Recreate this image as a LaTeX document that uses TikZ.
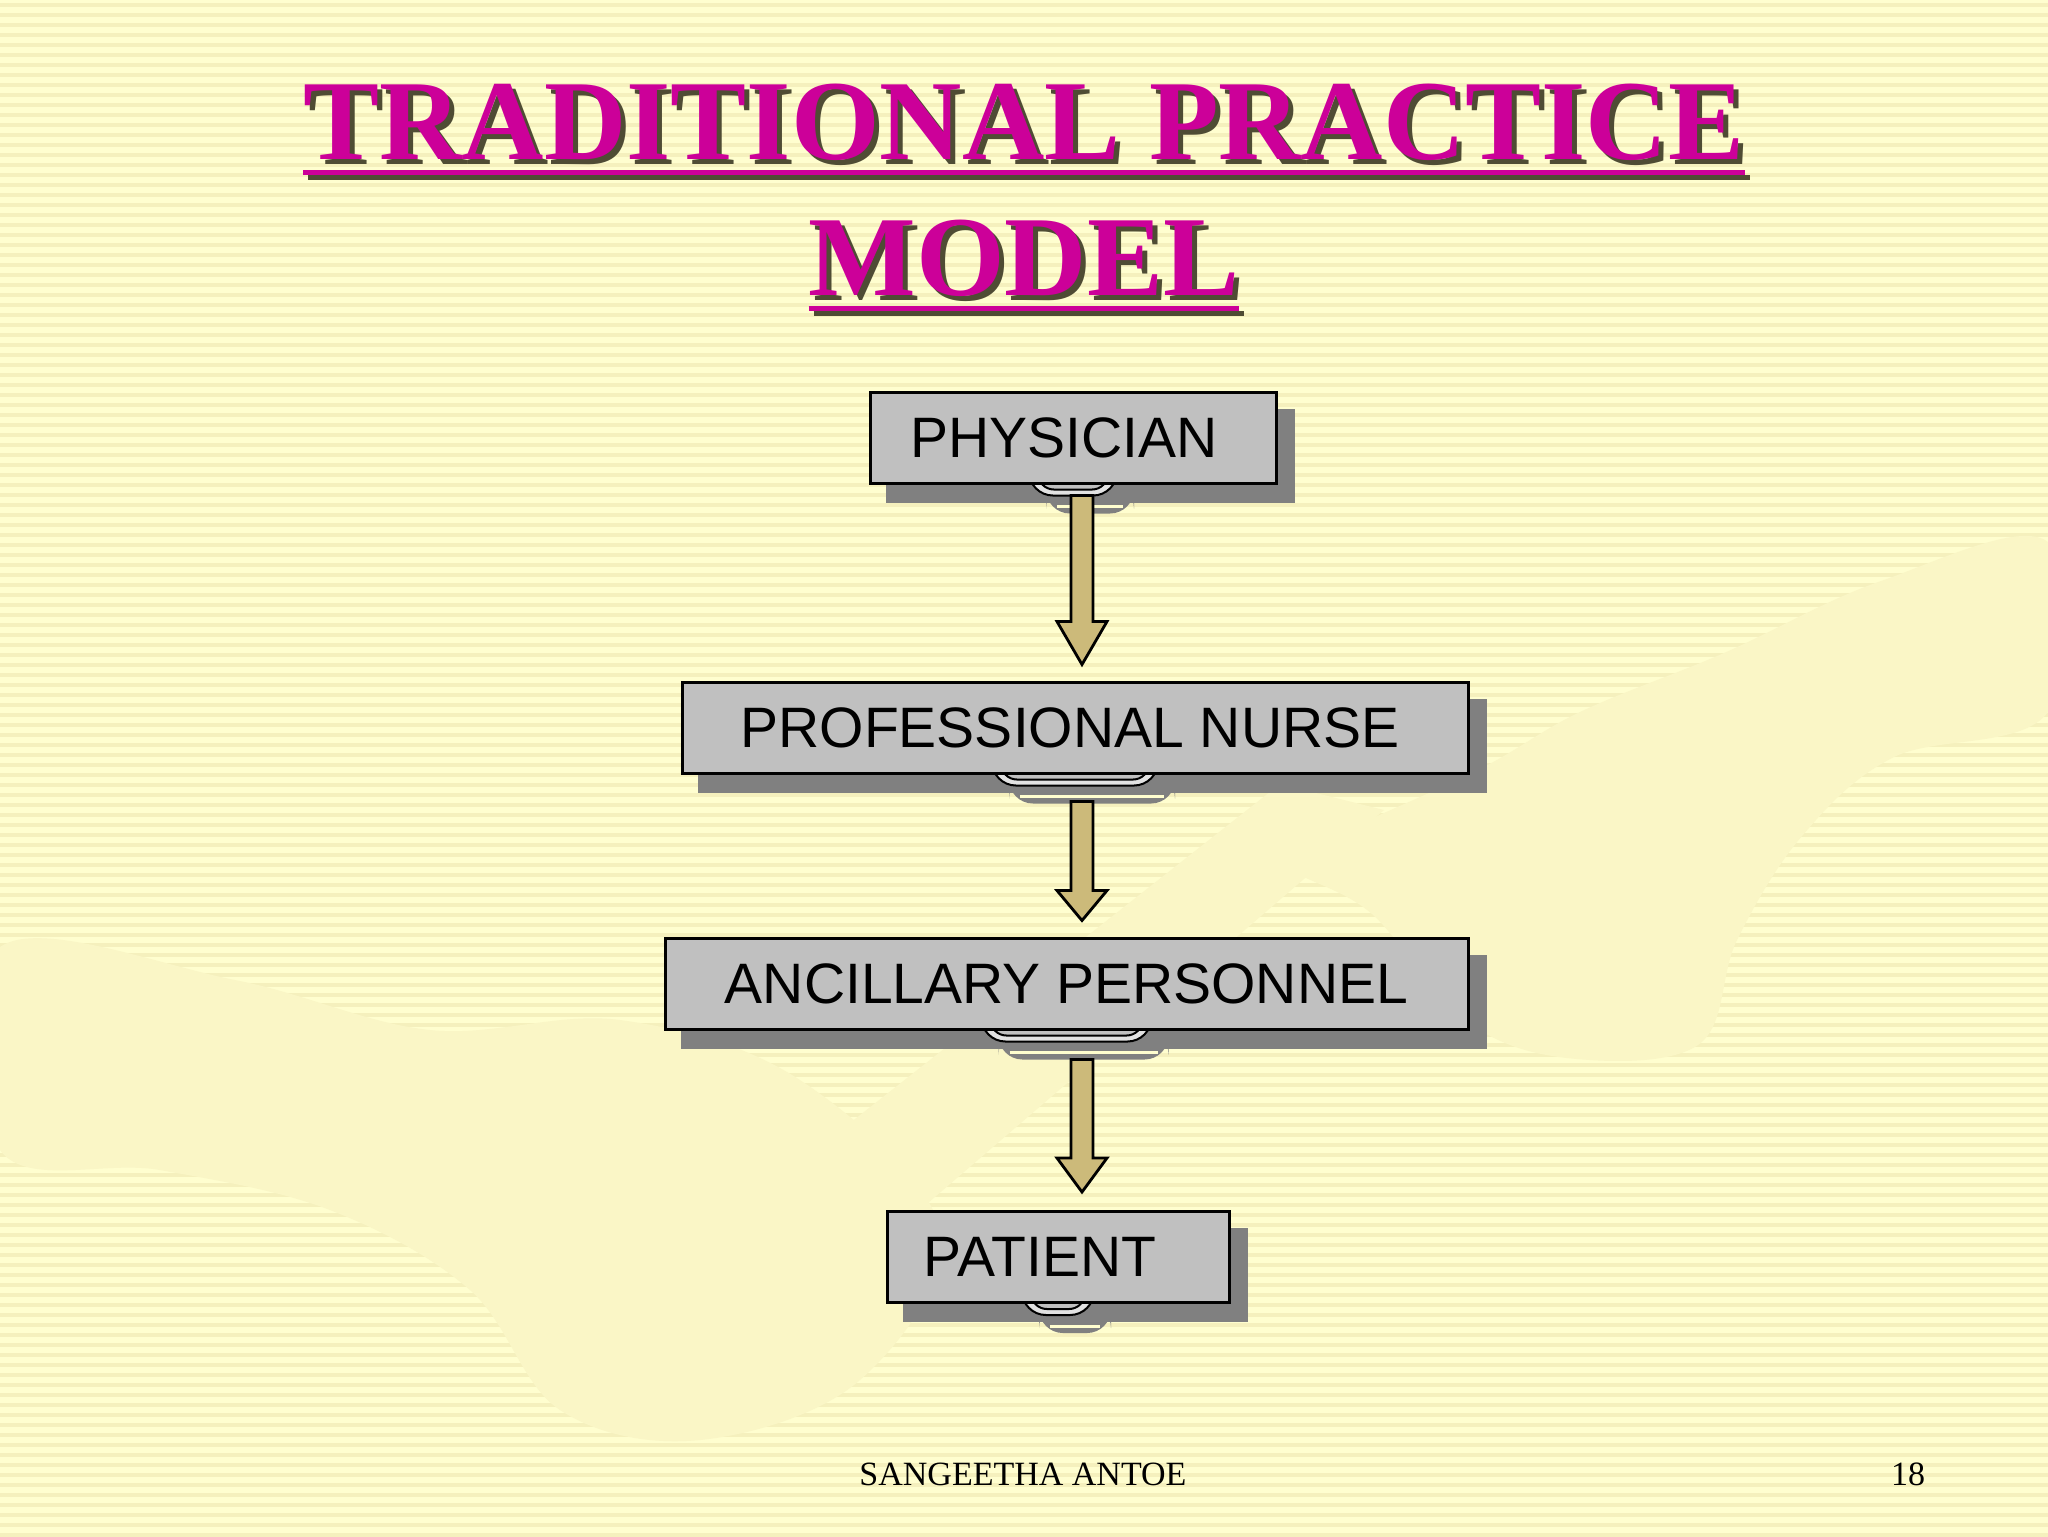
\documentclass[tikz,border=0pt]{standalone}
\usepackage{fontspec}
\setmainfont{Liberation Serif}
\setsansfont{Liberation Sans}
\usetikzlibrary{calc}

\definecolor{slidebg}{HTML}{FFFECF}
\definecolor{slidestripe}{HTML}{F5F0BD}
\definecolor{handtint}{HTML}{FAF6C6}
\definecolor{titlepink}{HTML}{CC0099}
\definecolor{titleshade}{HTML}{4F4C34}
\definecolor{boxgray}{HTML}{C0C0C0}
\definecolor{tabgray}{HTML}{E2E2E2}
\definecolor{shadegray}{HTML}{808080}
\definecolor{arrowtan}{HTML}{CCBA7A}

\pgfdeclarelayer{bg}
\pgfdeclarelayer{back}
\pgfsetlayers{bg,back,main}

% underlined title line with a dark drop shadow
\newcommand\titleuline[1]{\setbox0\hbox{#1}\rlap{\rule[-4pt]{\wd0}{1.25pt}}\box0}
\newcommand\titleline[1]{\makebox[0pt][l]{\hspace{1.25pt}\raisebox{-1.25pt}{\color{titleshade}\titleuline{#1}}}{\color{titlepink}\titleuline{#1}}}

\tikzset{every picture/.style={line width=0.75pt}}
\tikzset{
  rolebox/.style={draw, fill=boxgray, line width=0.75pt, minimum height=22.75pt, inner sep=0pt, font=\sffamily\fontsize{14.25}{17}\selectfont},
  blockarrow/.style={draw, fill=arrowtan, line width=0.7pt, line join=miter},
  titletext/.style={anchor=base, inner sep=0pt, font=\bfseries\fontsize{28.5}{34}\selectfont},
  foottext/.style={anchor=base, inner sep=0pt, font=\fontsize{8.5}{10}\selectfont}
}

\begin{document}
\begin{tikzpicture}[x=0.25pt,y=0.25pt,yscale=-1,xscale=1]
		\useasboundingbox (0,0) rectangle (2048,1536);
		
		%Background: striped slide with faint hands
		\begin{pgfonlayer}{bg}
		\fill[slidebg] (0,0) rectangle (2048,1536);
		\foreach \y in {0,10,...,1530}
			\fill[slidestripe] (0,\y+3) rectangle (2048,\y+7);
		\fill[handtint] plot[smooth cycle, tension=0.6] coordinates {(2048,542) (1881,581) (1724,653) (1580,712) (1476,771) (1306,849) (1293,870) (1372,914) (1463,1019) (1567,1058) (1698,1045) (1737,940) (1802,836) (1894,757) (2048,712)};
		\fill[handtint] plot[smooth cycle, tension=0.6] coordinates {(0,947) (235,980) (430,1030) (620,1020) (800,1080) (940,1230) (860,1380) (700,1440) (560,1410) (470,1290) (330,1210) (160,1170) (0,1150)};
		\fill[handtint] (784,1175) -- (1280,784) -- (1384,810) -- (914,1215) -- cycle;
		\end{pgfonlayer}
		
		%Title
		\node (title1) at (1024,159) [titletext] {\titleline{TRADITIONAL PRACTICE}};
		\node (title2) at (1024,295) [titletext] {\titleline{MODEL}};
		
		%Boxes
		\node (phys)  at (1073,437.5) [rolebox, minimum width=101.5pt]  {PHYSICIAN\kern4.5pt};
		\node (nurse) at (1075,727.5) [rolebox, minimum width=196.5pt]  {PROFESSIONAL NURSE\kern2.5pt};
		\node (anc)   at (1066.5,983.5) [rolebox, minimum width=200.75pt] {ANCILLARY PERSONNEL};
		\node (pat)   at (1058,1257) [rolebox, minimum width=85.5pt]   {PATIENT\kern9pt};
		
		%Shadows and clip tabs
		\begin{pgfonlayer}{back}
		\foreach \b/\w in {phys/44, nurse/83, anc/85, pat/36} {
			\fill[shadegray] ($(\b.south west)+(17,18)$) rectangle ($(\b.north east)+(17,18)$);
			\fill[shadegray, rounded corners=6] ($(\b.south)+(-\w+17,0)$) rectangle ($(\b.south)+(\w+17,29)$);
			\draw[slidebg, line width=0.75pt] ($(\b.south)+(-\w+28,22)$) -- ($(\b.south)+(\w+6,22)$);
			\draw[fill=tabgray, line width=0.5pt, rounded corners=6] ($(\b.south)+(-\w,-4)$) -- ($(\b.south)+(-\w,11)$) -- ($(\b.south)+(\w,11)$) -- ($(\b.south)+(\w,-4)$);
			\draw[fill=boxgray, line width=0.5pt, rounded corners=4] ($(\b.south)+(-\w+9,-4)$) -- ($(\b.south)+(-\w+9,5)$) -- ($(\b.south)+(\w-9,5)$) -- ($(\b.south)+(\w-9,-4)$);
		}
		\end{pgfonlayer}
		
		%Arrows
		\coordinate (axis) at (1082,0);
		\foreach \a/\b/\s/\g/\h in {phys/nurse/11/16/59, nurse/anc/27/16/46, anc/pat/29/18/52} {
			\draw[blockarrow] ($(axis |- \a.south)+(-11,\s)$) -- ($(axis |- \b.north)+(-11,-\h)$) -- ($(axis |- \b.north)+(-25,-\h)$) -- ($(axis |- \b.north)+(0,-\g)$) -- ($(axis |- \b.north)+(25,-\h)$) -- ($(axis |- \b.north)+(11,-\h)$) -- ($(axis |- \a.south)+(11,\s)$) -- cycle;
		}
		
		%Footer
		\node (author) at (1023,1485) [foottext] {SANGEETHA ANTOE};
		\node (pageno) at (1908,1485) [foottext] {18};
		
\end{tikzpicture}
\end{document}
